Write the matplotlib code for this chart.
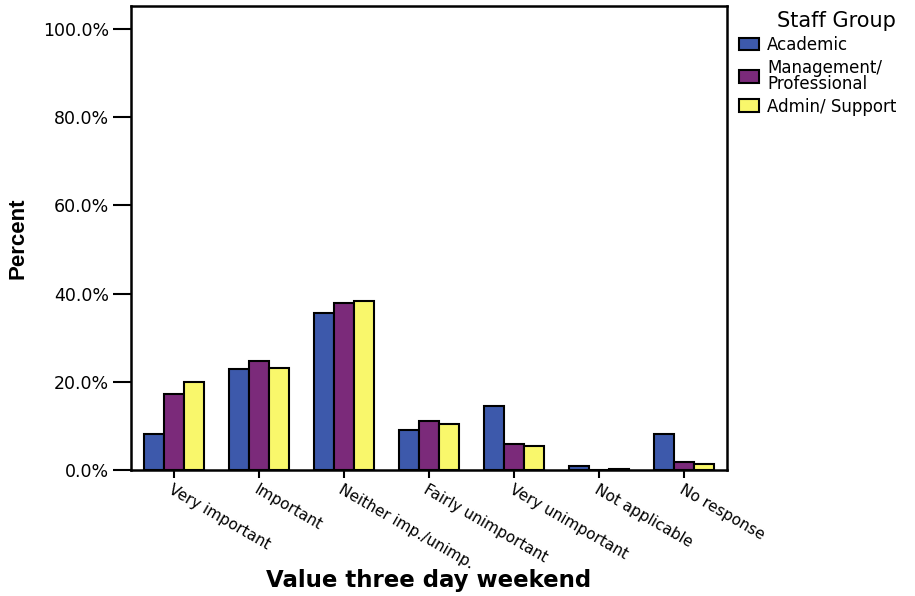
import matplotlib
matplotlib.use("Agg")
import matplotlib.pyplot as plt
import numpy as np
from matplotlib.ticker import FuncFormatter

plt.rcParams['font.family'] = ['DejaVu Sans']

categories = ["Very important", "Important", "Neither imp./unimp.", "Fairly unimportant",
              "Very unimportant", "Not applicable", "No response"]
groups = ["Academic", "Management/\nProfessional", "Admin/ Support"]
academic = [8.1, 22.8, 35.6, 9.0, 14.6, 0.8, 8.2]
management = [17.3, 24.6, 37.9, 11.1, 6.0, 0.0, 1.9]
admin = [20.0, 23.1, 38.3, 10.4, 5.4, 0.3, 1.3]
colors = ["#3d59ab", "#7b2a7a", "#f9f76b"]

fig = plt.figure(figsize=(9.15, 5.96), dpi=100)
ax = fig.add_axes([131/915, 1 - 470/596, (727-131)/915, (470-6)/596])

x = np.arange(len(categories))
w = 0.235
for i, (vals, c, lab) in enumerate(zip([academic, management, admin], colors, groups)):
    ax.bar(x + (i - 1) * w, vals, w, color=c, edgecolor='black', linewidth=1.5, label=lab, zorder=2)

ax.set_xlim(-0.5, len(categories) - 0.5)
ax.set_ylim(0, 105.2)
ax.set_yticks(np.arange(0, 101, 20))
ax.yaxis.set_major_formatter(FuncFormatter(lambda v, p: f"{v:.1f}%"))
ax.set_xticks(x)
ax.set_xticklabels(categories, rotation=-30, ha='left', va='top', rotation_mode='anchor')
ax.tick_params(axis='both', width=1.5, color='black')
ax.tick_params(axis='x', labelsize=11, pad=3, length=6)
ax.tick_params(axis='y', labelsize=12.5, pad=3, length=13)
for s in ax.spines.values():
    s.set_linewidth(1.8)

ax.set_xlabel("Value three day weekend", fontsize=16.5, fontweight='bold', va='center')
ax.xaxis.set_label_coords(0.5, -(581 - 470) / 464)
ax.set_ylabel("Percent", fontsize=16, fontweight='bold',
              family=['Liberation Sans Narrow', 'Liberation Sans', 'DejaVu Sans'])
ax.yaxis.set_label_coords(-(131 - 28) / 596, 0.5)

leg = ax.legend(title="Staff Group", loc='upper left', bbox_to_anchor=(1.0, 1.015),
                frameon=False, fontsize=12, title_fontsize=15, handlelength=1.2,
                handleheight=0.8, handletextpad=0.5, labelspacing=0.3, alignment='right',
                borderaxespad=0.3)
for h in leg.legend_handles:
    h.set_linewidth(1.5)
for t in leg.get_texts():
    t.set_linespacing(0.85)

fig.savefig("out.png", dpi=100)
